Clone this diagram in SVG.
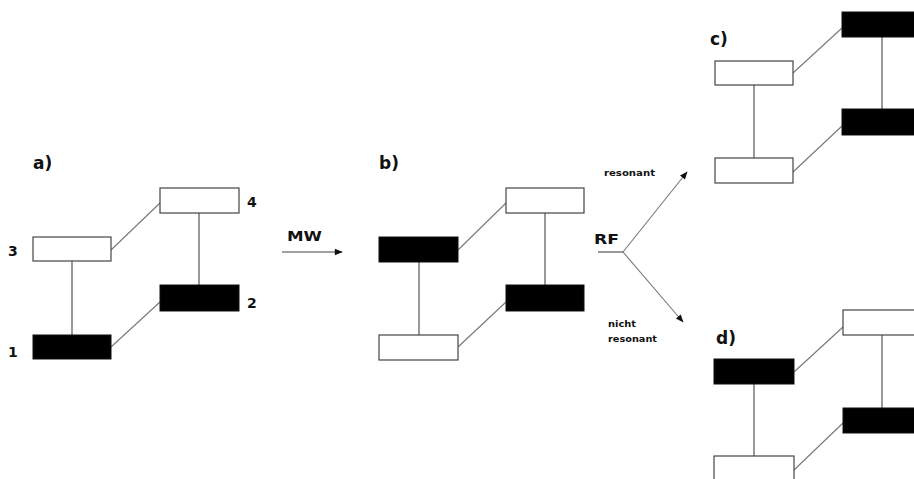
<svg xmlns="http://www.w3.org/2000/svg" width="914" height="479" viewBox="0 0 914 479">
<defs>
<style>
.w{fill:#fff;stroke:#444;stroke-width:1.2}
.b{fill:#000;stroke:#111;stroke-width:1}
.ln{stroke:#444;stroke-width:1.1;fill:none}
.dg{stroke:#777;stroke-width:1.1;fill:none}
.ttl{font-family:"DejaVu Sans",Verdana,sans-serif;font-weight:bold;font-size:17px;fill:#111}
.num{font-family:"DejaVu Sans",Verdana,sans-serif;font-weight:bold;font-size:14px;fill:#111}
.sm{font-family:"DejaVu Sans",Verdana,sans-serif;font-weight:bold;font-size:9px;fill:#111}
</style>
<marker id="ah" viewBox="0 0 10 10" refX="9" refY="5" markerWidth="9" markerHeight="8" orient="auto" markerUnits="userSpaceOnUse">
<path d="M0,1 L10,5 L0,9 Z" fill="#111"/>
</marker>
</defs>
<rect width="914" height="479" fill="#fff"/>
<g id="connectors">
<!-- a -->
<line class="ln" x1="72" y1="261" x2="72" y2="335"/>
<line class="ln" x1="199" y1="213" x2="199" y2="285"/>
<line class="dg" x1="111" y1="250" x2="160" y2="203"/>
<line class="dg" x1="111" y1="347" x2="160" y2="302"/>
<!-- b -->
<line class="ln" x1="419" y1="262" x2="419" y2="335"/>
<line class="ln" x1="545" y1="213" x2="545" y2="285"/>
<line class="dg" x1="458" y1="250" x2="506" y2="203"/>
<line class="dg" x1="458" y1="347" x2="506" y2="302"/>
<!-- c -->
<line class="ln" x1="754" y1="85" x2="754" y2="158"/>
<line class="ln" x1="882" y1="37" x2="882" y2="109"/>
<line class="dg" x1="793" y1="73" x2="842" y2="28"/>
<line class="dg" x1="793" y1="172" x2="842" y2="126"/>
<!-- d -->
<line class="ln" x1="754" y1="384" x2="754" y2="456"/>
<line class="ln" x1="882" y1="335" x2="882" y2="408"/>
<line class="dg" x1="794" y1="372" x2="843" y2="327"/>
<line class="dg" x1="794" y1="470" x2="843" y2="423"/>
<!-- MW arrow -->
<line class="ln" x1="282" y1="252" x2="342" y2="252" marker-end="url(#ah)"/>
<!-- RF -->
<line class="ln" x1="598" y1="252" x2="623" y2="252"/>
<line class="dg" x1="623" y1="252" x2="687" y2="172" marker-end="url(#ah)"/>
<line class="dg" x1="623" y1="252" x2="683" y2="322" marker-end="url(#ah)"/>
</g>
<g id="panel-a">
<text class="ttl" x="33" y="169">a)</text>
<g id="a1"><rect class="b" x="33" y="335" width="78" height="24"/><text class="num" x="8" y="357">1</text></g>
<g id="a2"><rect class="b" x="160" y="285" width="79" height="26"/><text class="num" x="247" y="308">2</text></g>
<g id="a3"><rect class="w" x="33" y="237" width="78" height="24"/><text class="num" x="8" y="256">3</text></g>
<g id="a4"><rect class="w" x="160" y="188" width="79" height="25"/><text class="num" x="247" y="207">4</text></g>
</g>
<g id="mw"><text class="num" x="287" y="241" textLength="35" lengthAdjust="spacingAndGlyphs">MW</text></g>
<g id="panel-b">
<text class="ttl" x="379" y="169">b)</text>
<g id="b1"><rect class="w" x="379" y="335" width="79" height="25"/></g>
<g id="b2"><rect class="b" x="506" y="285" width="78" height="26"/></g>
<g id="b3"><rect class="b" x="379" y="237" width="79" height="25"/></g>
<g id="b4"><rect class="w" x="506" y="188" width="78" height="25"/></g>
</g>
<g id="rf">
<text class="num" x="594" y="244" textLength="25" lengthAdjust="spacingAndGlyphs">RF</text>
<text class="sm" x="604" y="176" textLength="51" lengthAdjust="spacingAndGlyphs">resonant</text>
<text class="sm" x="608" y="327" textLength="28" lengthAdjust="spacingAndGlyphs">nicht</text>
<text class="sm" x="608" y="342" textLength="49" lengthAdjust="spacingAndGlyphs">resonant</text>
</g>
<g id="panel-c">
<text class="ttl" x="710" y="45">c)</text>
<g id="c1"><rect class="w" x="715" y="158" width="78" height="25"/></g>
<g id="c2"><rect class="b" x="842" y="109" width="80" height="26"/></g>
<g id="c3"><rect class="w" x="715" y="61" width="78" height="24"/></g>
<g id="c4"><rect class="b" x="842" y="12" width="80" height="25"/></g>
</g>
<g id="panel-d">
<text class="ttl" x="716" y="344">d)</text>
<g id="d1"><rect class="w" x="714" y="456" width="80" height="30"/></g>
<g id="d2"><rect class="b" x="843" y="408" width="80" height="25"/></g>
<g id="d3"><rect class="b" x="714" y="359" width="80" height="25"/></g>
<g id="d4"><rect class="w" x="843" y="310" width="80" height="25"/></g>
</g>
</svg>
